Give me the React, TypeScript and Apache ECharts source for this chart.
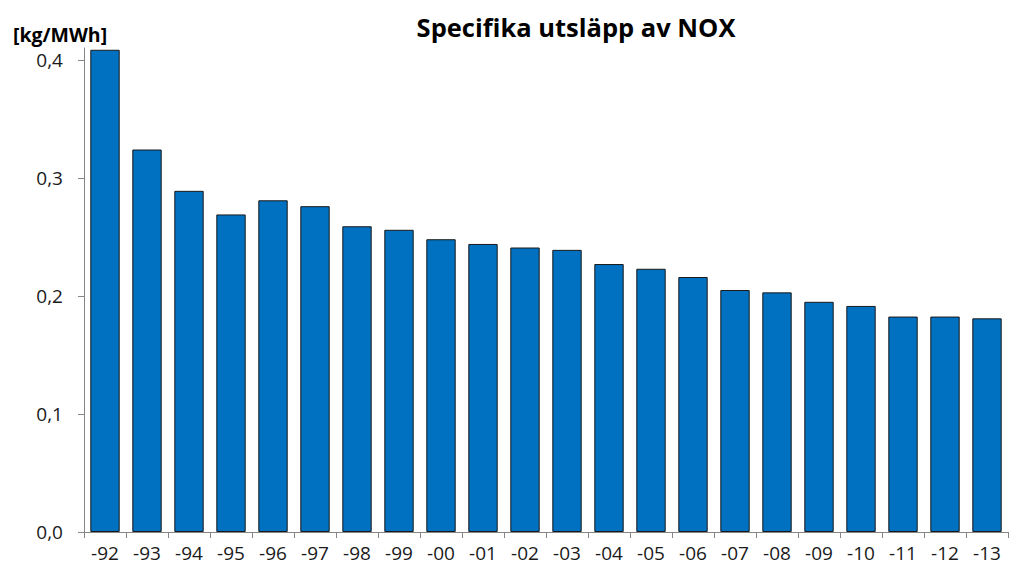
import React, { useEffect, useRef } from "react";
import * as echarts from "echarts";

const categories = ["-92", "-93", "-94", "-95", "-96", "-97", "-98", "-99", "-00", "-01", "-02", "-03", "-04", "-05", "-06", "-07", "-08", "-09", "-10", "-11", "-12", "-13"];
const noxValues = [0.4085, 0.324, 0.289, 0.269, 0.281, 0.276, 0.259, 0.256, 0.248, 0.244, 0.241, 0.239, 0.227, 0.223, 0.216, 0.205, 0.203, 0.195, 0.1915, 0.1825, 0.1825, 0.181];
const yTicks = [0, 0.1, 0.2, 0.3, 0.4];
const titleText = "Specifika utsläpp av NOX";
const unitText = "[kg/MWh]";

export default function App() {
  const ref = useRef<HTMLDivElement>(null);
  useEffect(() => {
    document.body.style.margin = "0";
    const chart = echarts.init(ref.current!, undefined, { renderer: "svg" });
    chart.setOption({
      animation: false,
      backgroundColor: "#ffffff",
      title: [
        {
          text: titleText,
          left: 571,
          top: 9,
          textAlign: "center",
          textStyle: { fontFamily: "Open Sans", fontWeight: "bold", fontSize: 25.5, color: "#000" },
        },
        {
          text: unitText,
          left: 8,
          top: 19,
          textStyle: { fontFamily: "Open Sans", fontWeight: "bold", fontSize: 19.5, color: "#000" },
        },
      ],
      grid: { left: 84, right: 1, top: 48, bottom: 38, containLabel: false },
      xAxis: {
        type: "category",
        data: categories,
        axisLine: { lineStyle: { color: "#868686", width: 1 } },
        axisTick: { show: true, length: 6, lineStyle: { color: "#868686" } },
        axisLabel: { fontFamily: "Open Sans", fontSize: 19, color: "#1a1a1a", margin: 11 },
      },
      yAxis: {
        type: "value",
        min: 0,
        max: 0.41,
        interval: 0.1,
        splitLine: { show: false },
        axisLine: { show: true, lineStyle: { color: "#868686", width: 1 } },
        axisTick: { show: true, length: 6, lineStyle: { color: "#868686" }, customValues: yTicks },
        axisLabel: {
          fontFamily: "Open Sans",
          fontSize: 19,
          color: "#1a1a1a",
          margin: 21,
          customValues: yTicks,
          formatter: (v: number) => v.toFixed(1).replace(".", ","),
        },
      },
      series: [
        {
          type: "bar",
          data: noxValues,
          barCategoryGap: "30%",
          itemStyle: { color: "#0070C0", borderColor: "#1a1a1a", borderWidth: 1 },
        },
      ],
    });
    return () => chart.dispose();
  }, []);
  return <div ref={ref} style={{ width: 1009, height: 570 }} />;
}
